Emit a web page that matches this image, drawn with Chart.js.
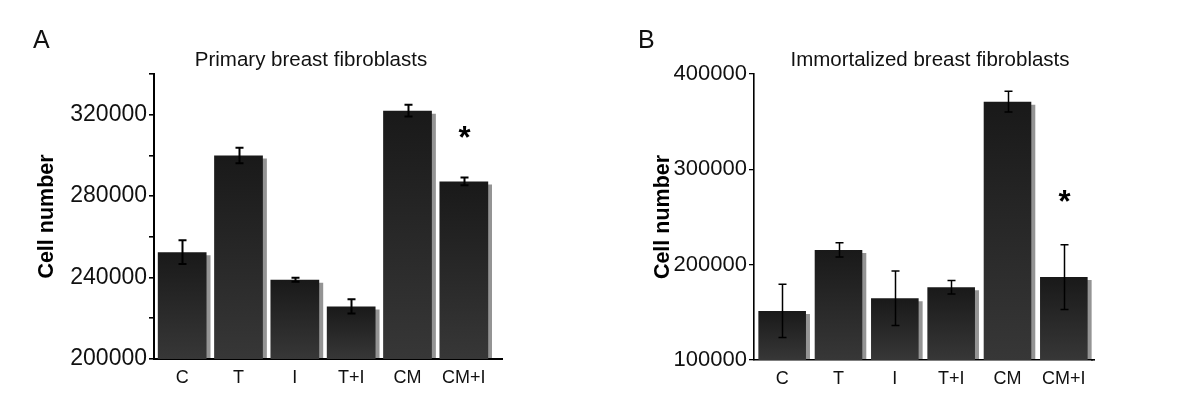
<!DOCTYPE html>
<html>
<head>
<meta charset="utf-8">
<script src="https://cdn.jsdelivr.net/npm/chart.js@4.4.1/dist/chart.umd.min.js"></script>
<style>
  body { margin: 0; background: #fff; width: 1200px; height: 414px; overflow: hidden;
         font-family: "Liberation Sans", Arial, sans-serif; color: #111; }
  .panel { position: absolute; top: 0; width: 600px; height: 414px; }
  .panel canvas { position: absolute; left: 0; top: 0; }
  .letter { position: absolute; font-size: 25px; line-height: 28px; top: 25px; }
  .title { position: absolute; font-size: 20.5px; line-height: 24px; top: 47px;
           white-space: nowrap; transform: translateX(-50%); }
</style>
</head>
<body>
<div class="panel" style="left:0">
  <canvas id="chart-a" width="600" height="414"></canvas>
  <div class="letter" style="left:33px">A</div>
  <div class="title" style="left:311px">Primary breast fibroblasts</div>
</div>
<div class="panel" style="left:600px">
  <canvas id="chart-b" width="600" height="414"></canvas>
  <div class="letter" style="left:38px">B</div>
  <div class="title" style="left:330px">Immortalized breast fibroblasts</div>
</div>
<script>
// treatment groups
const groups = ['C', 'T', 'I', 'T+I', 'CM', 'CM+I'];

// panel A - primary fibroblasts
const primaryMean = [252500, 300000, 238900, 225800, 322000, 287200];
const primaryErr  = [5800, 3800, 1000, 3500, 2900, 1900];
const primarySig  = ['', '', '', '', '', '*'];
const primaryTicks = { min: 200000, max: 340000, step: 20000, labelEvery: 40000 };

// panel B - immortalized fibroblasts
const immortMean = [151500, 215500, 164800, 176300, 371000, 187000];
const immortErr  = [28000, 7500, 28500, 7000, 10800, 34000];
const immortSig  = ['', '', '', '', '', '*'];
const immortTicks = { min: 100000, max: 400000, step: 100000, labelEvery: 100000 };

const FONT = '"Liberation Sans", Arial, sans-serif';

// error bars, significance stars and the bar shadow
const extrasPlugin = {
    id: 'extras',
    beforeDatasetsDraw(chart) {
        const c = chart.ctx;
        c.save();
        c.shadowColor = 'rgba(0,0,0,0.42)';
        c.shadowOffsetX = 4;
        c.shadowOffsetY = 3;
        c.shadowBlur = 0;
    },
    afterDatasetsDraw(chart) {
        const c = chart.ctx;
        c.restore();
        const o = chart.options.plugins.extras;
        const y = chart.scales.y;
        const meta = chart.getDatasetMeta(0);
        const means = chart.data.datasets[0].data;
        c.save();
        c.strokeStyle = '#000';
        c.lineWidth = o.errWidth;
        meta.data.forEach((bar, i) => {
            const top = y.getPixelForValue(means[i] + o.err[i]);
            const bot = y.getPixelForValue(means[i] - o.err[i]);
            const x = Math.round(bar.x) + 0.5;
            c.beginPath();
            c.moveTo(x, top); c.lineTo(x, bot);
            c.moveTo(x - o.cap, top); c.lineTo(x + o.cap, top);
            c.moveTo(x - o.cap, bot); c.lineTo(x + o.cap, bot);
            c.stroke();
            if (o.sig[i]) {
                c.fillStyle = '#000';
                c.font = 'bold 31px ' + FONT;
                c.textAlign = 'center';
                c.textBaseline = 'alphabetic';
                c.fillText(o.sig[i], x, top - o.starGap + 17);
            }
        });
        // x axis runs a bit past the last bar
        const ca = chart.chartArea;
        c.lineWidth = o.axisWidth;
        c.beginPath();
        c.moveTo(ca.right - 1, ca.bottom + o.axisWidth / 2 - 1);
        c.lineTo(ca.right + o.axisExtend, ca.bottom + o.axisWidth / 2 - 1);
        c.stroke();
        c.restore();
    }
};

function barFill(ctx) {
    const chart = ctx.chart;
    const y = chart.scales.y;
    if (!chart.chartArea || ctx.raw == null || !y) return '#262626';
    const top = y.getPixelForValue(ctx.raw);
    const g = chart.ctx.createLinearGradient(0, top, 0, y.bottom);
    g.addColorStop(0, '#191919');
    g.addColorStop(1, '#373737');
    return g;
}

function makeChart(id, means, errs, sig, ticks, look) {
    return new Chart(document.getElementById(id), {
        type: 'bar',
        data: {
            labels: groups,
            datasets: [{
                data: means,
                backgroundColor: barFill,
                borderWidth: 0,
                barPercentage: look.barPct,
                categoryPercentage: 1
            }]
        },
        options: {
            responsive: false,
            animation: false,
            layout: { padding: { top: 74, right: look.padRight, left: 0, bottom: 0 } },
            plugins: {
                legend: { display: false },
                tooltip: { enabled: false },
                extras: {
                    err: errs, sig, cap: look.cap, errWidth: look.errWidth,
                    starGap: look.starGap, axisWidth: look.axisWidth, axisExtend: look.axisExtend
                }
            },
            scales: {
                x: {
                    afterFit(scale) { scale.height = look.xHeight; },
                    grid: { display: false, drawTicks: false },
                    border: { display: true, color: '#000', width: look.axisWidth },
                    ticks: { color: '#111', padding: 8, font: { family: FONT, size: 18 } }
                },
                y: {
                    min: ticks.min,
                    max: ticks.max,
                    afterFit(scale) { scale.width = 154; },
                    grid: { display: true, drawOnChartArea: false, drawTicks: true,
                            tickLength: 5, color: '#000', lineWidth: look.axisWidth * 0.8 },
                    border: { display: true, color: '#000', width: look.axisWidth },
                    ticks: {
                        stepSize: ticks.step,
                        padding: 2,
                        color: '#111',
                        font: { family: FONT, size: look.tickSize },
                        callback: (v) => ((v - ticks.min) % ticks.labelEvery === 0 ? String(v) : '')
                    },
                    title: {
                        display: true,
                        text: 'Cell number',
                        color: '#000',
                        font: { family: FONT, size: 21.5, weight: 'bold' },
                        padding: { top: look.titlePad, bottom: 0 }
                    }
                }
            }
        },
        plugins: [extrasPlugin]
    });
}

makeChart('chart-a', primaryMean, primaryErr, primarySig, primaryTicks,
    { barPct: 0.865, padRight: 108, xHeight: 55, cap: 4, errWidth: 2, axisWidth: 2, axisExtend: 11,
      titlePad: 34, tickSize: 23, starGap: 47 });
makeChart('chart-b', immortMean, immortErr, immortSig, immortTicks,
    { barPct: 0.845, padRight: 108, xHeight: 54, cap: 4, errWidth: 1.5, axisWidth: 1.6, axisExtend: 3,
      titlePad: 50, tickSize: 22, starGap: 50 });
</script>
</body>
</html>
